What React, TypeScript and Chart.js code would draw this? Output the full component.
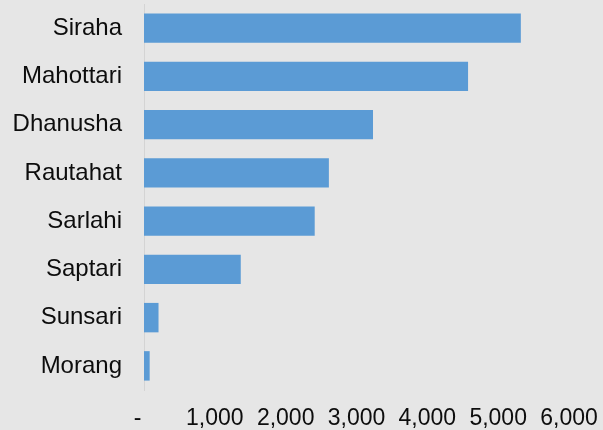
import React, { useEffect, useRef } from "react";
import { Chart, registerables } from "chart.js";

Chart.register(...registerables);

const districts = ["Siraha", "Mahottari", "Dhanusha", "Rautahat", "Sarlahi", "Saptari", "Sunsari", "Morang"];
const values = [5320, 4575, 3233, 2610, 2410, 1366, 205, 80];
const xTickValues = [0, 1000, 2000, 3000, 4000, 5000, 6000];
const xTickLabels = ["-  ", "1,000", "2,000", "3,000", "4,000", "5,000", "6,000"];

export default function App() {
  const ref = useRef<HTMLCanvasElement | null>(null);

  useEffect(() => {
    if (!ref.current) return;
    const family = "'Liberation Sans', Arial, sans-serif";
    const chart = new Chart(ref.current, {
      type: "bar",
      data: {
        labels: districts,
        datasets: [
          {
            data: values,
            backgroundColor: "#5b9bd5",
            borderWidth: 0,
            categoryPercentage: 1,
            barPercentage: 0.61,
          },
        ],
      },
      options: {
        indexAxis: "y",
        animation: false,
        responsive: false,
        maintainAspectRatio: false,
        layout: { padding: { top: 4, right: 34, left: 0, bottom: 0 } },
        plugins: { legend: { display: false }, tooltip: { enabled: false } },
        scales: {
          x: {
            type: "linear",
            min: 0,
            max: 6000,
            grid: { display: false, drawTicks: false, tickLength: 0 },
            border: { display: false },
            afterBuildTicks: (scale: any) => {
              scale.ticks = xTickValues.map((v) => ({ value: v }));
            },
            afterFit: (scale: any) => {
              scale.height = 40;
              scale.paddingLeft = 0;
              scale.paddingRight = 0;
            },
            ticks: {
              font: { family, size: 23 },
              color: "#0d0d0d",
              padding: 15,
              maxRotation: 0,
              autoSkip: false,
              callback: (v: any) => {
                const i = xTickValues.indexOf(Number(v));
                return i >= 0 ? xTickLabels[i] : "";
              },
            },
          },
          y: {
            grid: { display: false, drawTicks: false, tickLength: 0 },
            border: { display: true, color: "#d4d4d4", width: 1 },
            afterFit: (scale: any) => {
              scale.width = 144;
              scale.paddingTop = 0;
              scale.paddingBottom = 0;
            },
            ticks: { font: { family, size: 24 }, color: "#0d0d0d", padding: 22, autoSkip: false },
          },
        },
      },
    });
    return () => chart.destroy();
  }, []);

  return (
    <div style={{ position: "fixed", left: 0, top: 0, width: 603, height: 430, background: "#e6e6e6" }}>
      <canvas ref={ref} width={603} height={430} style={{ display: "block", width: 603, height: 430 }} />
    </div>
  );
}
